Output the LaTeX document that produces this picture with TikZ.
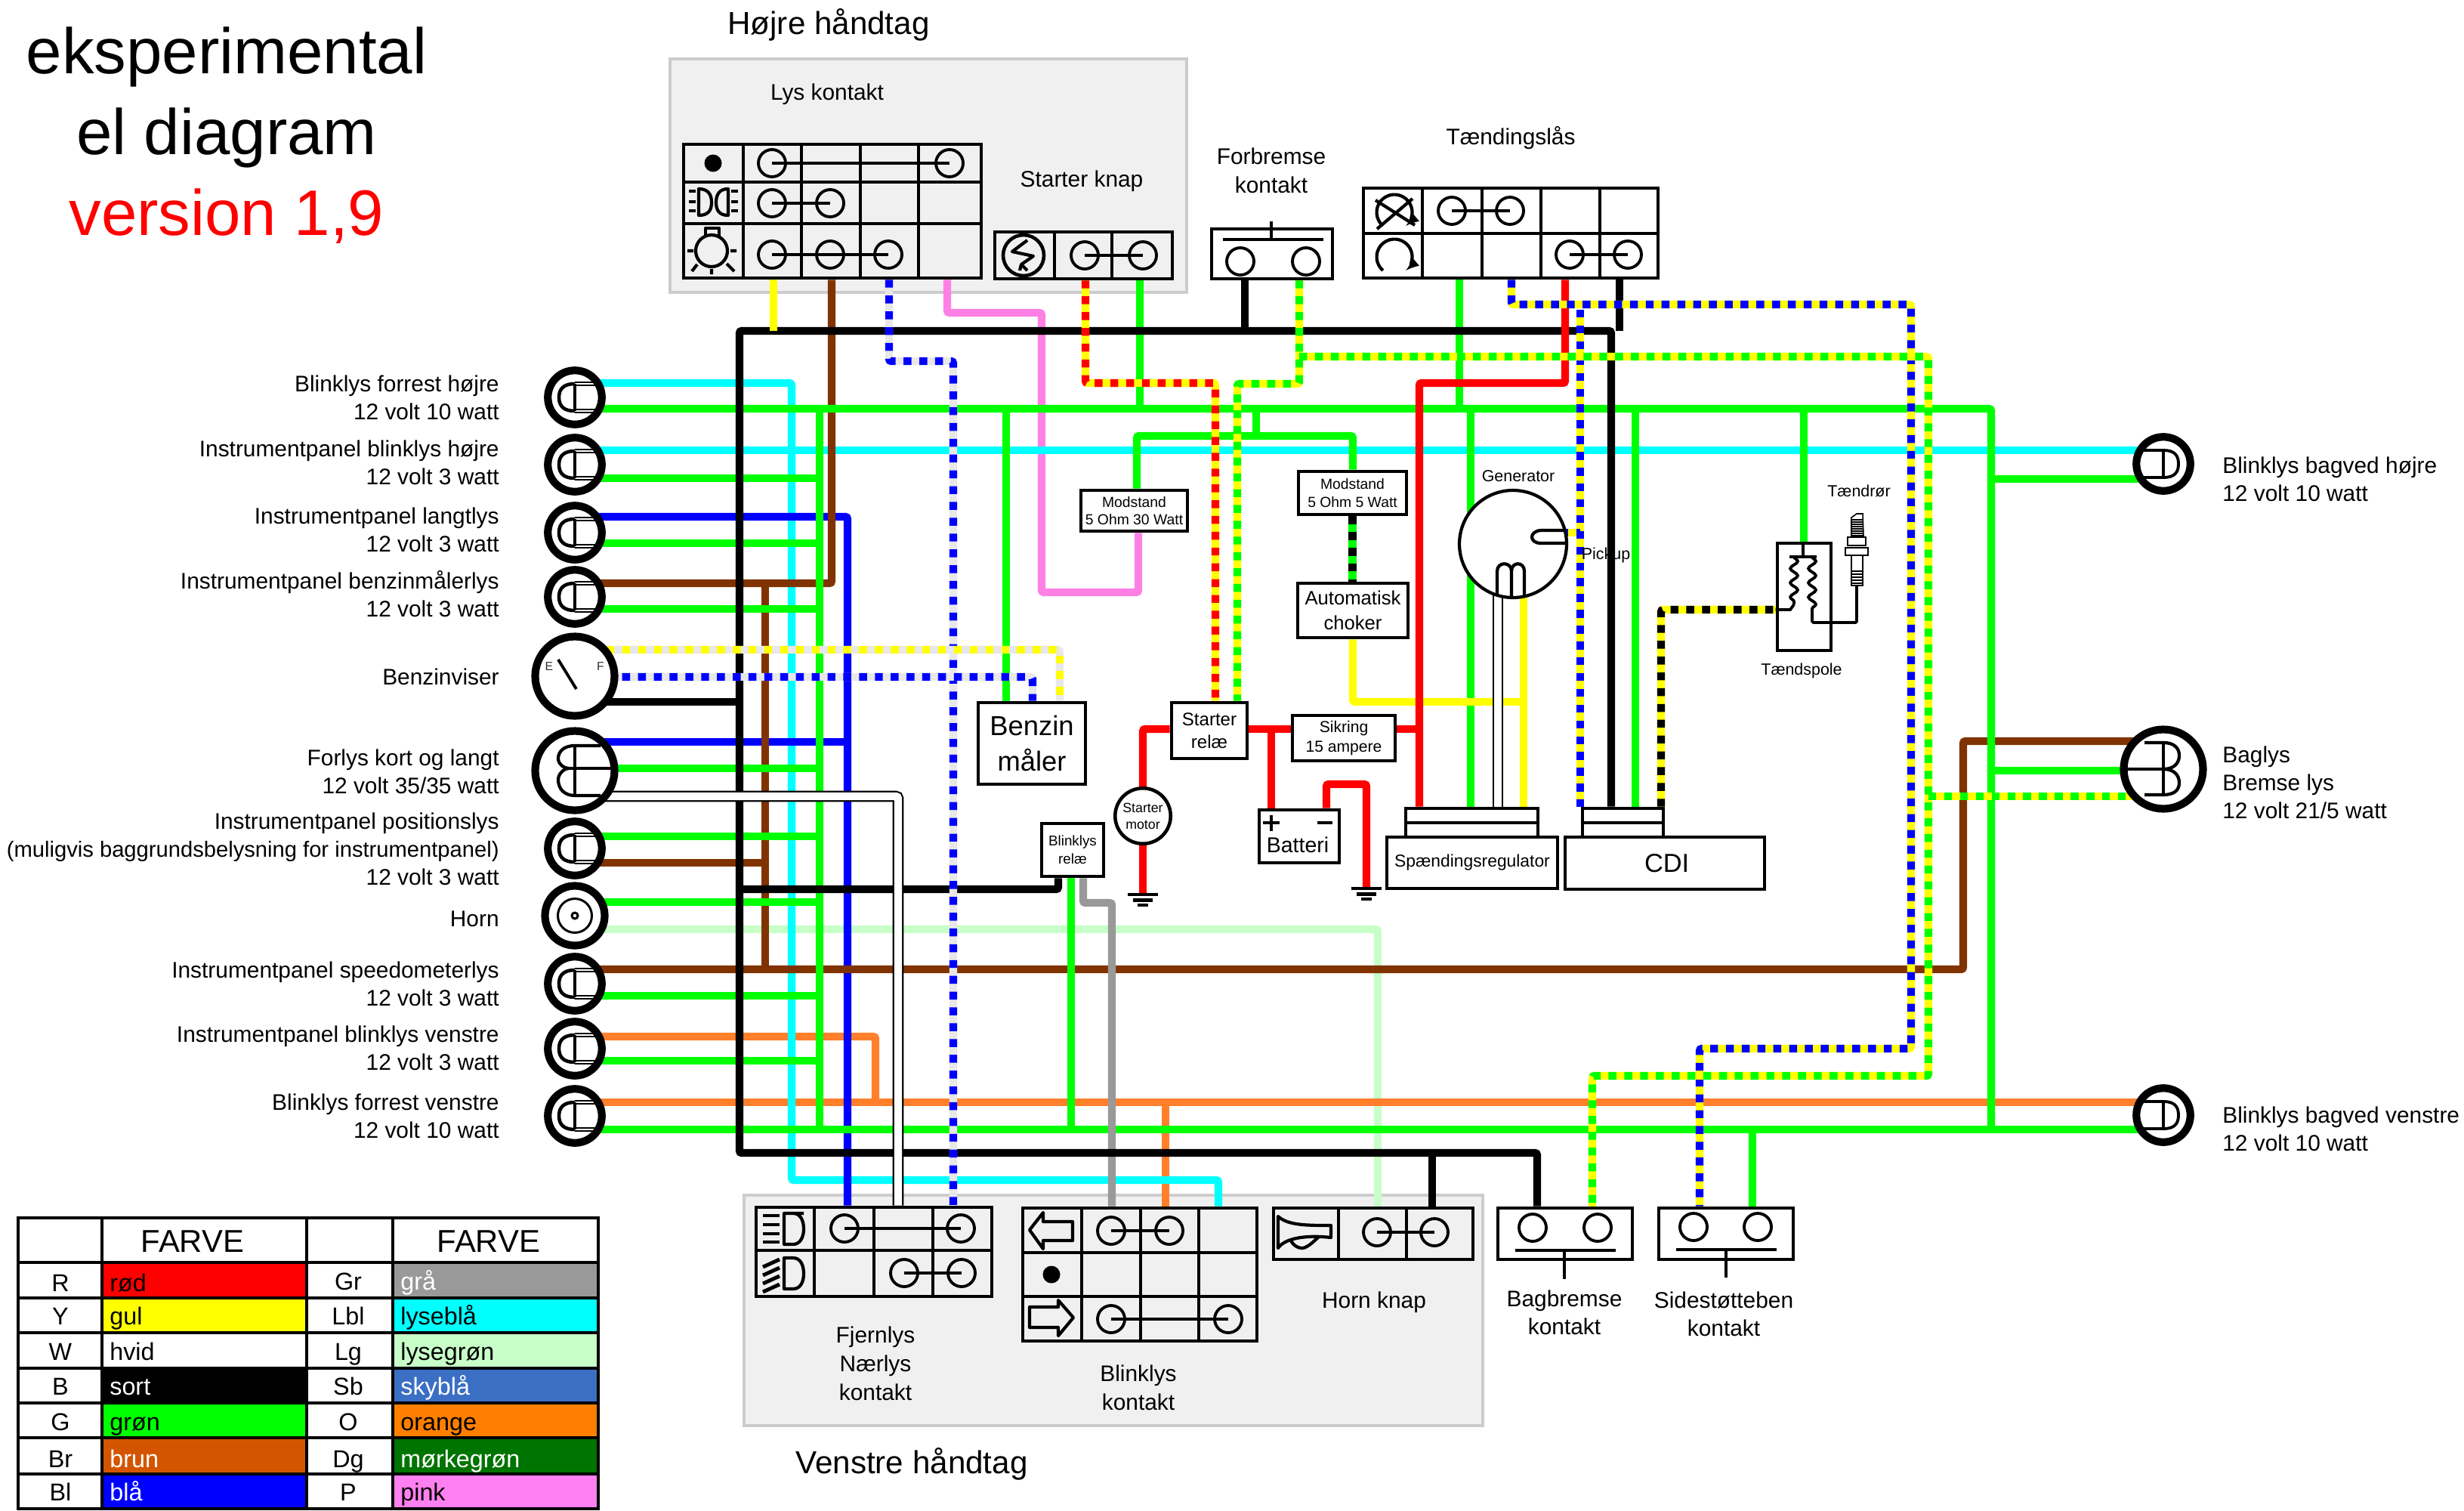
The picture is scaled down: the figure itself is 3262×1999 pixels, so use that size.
\documentclass[tikz,border=0pt]{standalone}
\usepackage{fontspec}
\setmainfont{Liberation Sans}
\usetikzlibrary{arrows,shapes,backgrounds,fit,decorations.pathmorphing,calc}

\definecolor{wgreen}{HTML}{00FF00}
\definecolor{wcyan}{HTML}{00FFFF}
\definecolor{wbrown}{HTML}{803300}
\definecolor{wblue}{HTML}{0000FF}
\definecolor{wyellow}{HTML}{FFFF00}
\definecolor{wred}{HTML}{FF0000}
\definecolor{wpink}{HTML}{FF80E5}
\definecolor{worange}{HTML}{FF7F2A}
\definecolor{wlight}{HTML}{C8FFC8}
\definecolor{wgrey}{HTML}{999999}
\definecolor{wwhite}{HTML}{E8E8E8}
\definecolor{lbrown}{HTML}{D45500}
\definecolor{lorange}{HTML}{FF7F00}
\definecolor{lsky}{HTML}{3A6FC4}
\definecolor{ldark}{HTML}{007400}
\definecolor{lpink}{HTML}{FF80F0}
\definecolor{panelgrey}{HTML}{F0F0F0}

\newcommand{\fs}[2]{\fontsize{#1}{#2}\selectfont}
\pgfdeclarelayer{panel}
\pgfdeclarelayer{wirelayer}
\pgfsetlayers{panel,wirelayer,main}

\tikzset{
  wire/.style={line width=5.9pt, rounded corners=1.7pt},
  bicolor/.style 2 args={wire, draw=#1, postaction={draw=#2, dash pattern=on 5.95pt off 5.95pt}},
  whitewire/.style={line width=1.2pt, double=white, double distance=5.9pt, rounded corners=1.7pt},
  lamp/.style={circle, draw=black, fill=white, line width=5.8pt, inner sep=0pt, minimum size=1.43cm},
  biglamp/.style={lamp, minimum size=2.1cm},
  panelbox/.style={draw=black!20, fill=panelgrey, line width=1.8pt, inner sep=0pt},
  grid/.style={draw=black, line width=2.6pt, inner sep=0pt},
  part/.style={grid, fill=white, align=center},
  boxsize/.style args={#1x#2}{minimum width=#1*.02cm, minimum height=#2*.02cm},
  gridline/.style={line width=2.5pt},
  terminal/.style={circle, draw=black, line width=2.2pt, inner sep=0pt, minimum size=.72cm},
  bridge/.style={line width=2.8pt},
  symline/.style={line width=2.4pt, line join=round},
  thinsym/.style={line width=1.6pt},
  gndbar/.style={line width=2.6pt},
  lbl/.style={font=\fs{17}{21}, inner sep=0pt, align=center},
  lblright/.style={lbl, align=right, anchor=east},
  lblleft/.style={lbl, align=left, anchor=west},
  tiny/.style={font=\fs{12.2}{14}, inner sep=0pt, align=center},
  cell/.style={font=\fs{18.4}{20}, inner sep=0pt, anchor=base},
  frontlamp/.pic={
    \draw[line width=2.6pt] (0,-18) .. controls (-14,-18) and (-21,-12) .. (-21,0) .. controls (-21,12) and (-14,18) .. (0,18);
    \draw[thinsym] (0,-20) -- (26,-20) (0,-16) -- (29,-16) (0,16) -- (29,16) (0,20) -- (26,20);
    \draw[line width=2.2pt] (0,-18) -- (0,18);
  },
  rearlamp/.pic={
    \draw[line width=2.2pt] (-26,-18) -- (0,-18) .. controls (14,-18) and (20,-12) .. (20,0) .. controls (20,12) and (14,18) .. (0,18) -- (-26,18);
    \draw[line width=2.2pt] (0,-18) -- (0,18);
  },
  twinfront/.pic={
    \draw[line width=2.4pt] (34,-33) -- (0,-33) .. controls (-16,-33) and (-22,-24) .. (-22,-16) .. controls (-22,-8) and (-14,-3) .. (-8,-3) .. controls (-14,-3) and (-22,4) .. (-22,12) .. controls (-22,24) and (-14,33) .. (0,33) -- (34,33);
    \draw[line width=2.4pt] (0,-33) -- (0,33) (-8,-3) -- (48,-3);
  },
  twinrear/.pic={
    \draw[line width=2.4pt] (-25,-35) -- (0,-35) .. controls (14,-35) and (21,-28) .. (21,-18) .. controls (21,-8) and (14,0) .. (0,0) .. controls (14,0) and (21,8) .. (21,18) .. controls (21,28) and (14,34) .. (0,34) -- (-25,34);
    \draw[line width=2.4pt] (0,-35) -- (0,34) (0,0) -- (-52,0);
  },
}

\begin{document}
\begin{tikzpicture}[x=.02cm, y=-.02cm]
  \useasboundingbox (0,0) rectangle (3262,1999);

  \begin{pgfonlayer}{panel}
    \node[panelbox, fit={(887,78) (1571,387)}] (hojrepanel) {};
    \node[panelbox, fit={(985,1582) (1963,1887)}] (venstrepanel) {};
  \end{pgfonlayer}

  % switches
  \node[grid, fit={(905,191) (1299,368)}] (lyskontakt) {};
  \node[grid, fit={(1317,307) (1552,369)}] (starterknap) {};
  \node[part, fit={(1604,303) (1764,369)}] (forbremse) {};
  \node[part, fit={(1805,249) (2195,368)}] (taending) {};
  \node[grid, fit={(1001,1598) (1313,1716)}] (fjernlys) {};
  \node[grid, fit={(1354,1599) (1664,1775)}] (blinkkontakt) {};
  \node[grid, fit={(1686,1599) (1950,1667)}] (hornknap) {};
  \node[part, fit={(1983,1599) (2161,1667)}] (bagkontakt) {};
  \node[part, fit={(2196,1599) (2374,1667)}] (sidekontakt) {};

  \foreach \xv in {984,1061,1139,1216} \draw[gridline] (\xv,0 |- lyskontakt.north) -- (\xv,0 |- lyskontakt.south);
  \foreach \yv in {241,296} \draw[gridline] (lyskontakt.west |- 0,\yv) -- (lyskontakt.east |- 0,\yv);
  \foreach \xv in {1396,1472} \draw[gridline] (\xv,0 |- starterknap.north) -- (\xv,0 |- starterknap.south);
  \foreach \xv in {1883,1962,2040,2118} \draw[gridline] (\xv,0 |- taending.north) -- (\xv,0 |- taending.south);
  \draw[gridline] (taending.west |- 0,309) -- (taending.east |- 0,309);
  \foreach \xv in {1078,1157,1235} \draw[gridline] (\xv,0 |- fjernlys.north) -- (\xv,0 |- fjernlys.south);
  \draw[gridline] (fjernlys.west |- 0,1655) -- (fjernlys.east |- 0,1655);
  \foreach \xv in {1432,1510,1587} \draw[gridline] (\xv,0 |- blinkkontakt.north) -- (\xv,0 |- blinkkontakt.south);
  \foreach \yv in {1658,1716} \draw[gridline] (blinkkontakt.west |- 0,\yv) -- (blinkkontakt.east |- 0,\yv);
  \foreach \xv in {1772,1862} \draw[gridline] (\xv,0 |- hornknap.north) -- (\xv,0 |- hornknap.south);

  \foreach \n/\cx/\cy in {lysa/1022/216, lysb/1257/216, lysc/1022/269, lysd/1099/269, lyse/1022/337, lysf/1099/337, lysg/1176/337,
      stara/1436/338, starb/1513/338, brema/1642/346, bremb/1729/346,
      taena/1922/279, taenb/1999/279, taenc/2078/337, taend/2155/337,
      fjera/1118/1626, fjerb/1272/1626, fjerc/1197/1685, fjerd/1273/1685,
      blina/1471/1629, blinb/1548/1629, blinc/1471/1746, blind/1626/1746,
      horna/1823/1631, hornb/1899/1631, baga/2029/1625, bagb/2115/1625, sidea/2242/1624, sideb/2327/1624}
    \node[terminal] (\n) at (\cx,\cy) {};
  \foreach \a/\b in {lysa/lysb, lysc/lysd, lyse/lysg, stara/starb, taena/taenb, taenc/taend, fjera/fjerb, fjerc/fjerd, blina/blinb, blinc/blind, horna/hornb}
    \draw[bridge] (\a.center) -- (\b.center);

  % bars on the push buttons
  \draw[bridge] (1619,317) -- (1752,317) (1683,293) -- (1683,317);
  \draw[bridge] (2006,1655) -- (2139,1655) (2071,1655) -- (2071,1693);
  \draw[bridge] (2219,1654) -- (2352,1654) (2285,1654) -- (2285,1691);

  % symbols in the switches
  \fill (944,216) circle[radius=.23cm];
  \fill (1392,1687) circle[radius=.23cm];
  \draw[symline] (925,250) .. controls (938,250) and (942,258) .. (942,268) .. controls (942,278) and (938,285) .. (925,285) -- cycle;
  \draw[symline] (964,250) .. controls (952,250) and (948,258) .. (948,268) .. controls (948,278) and (952,285) .. (964,285) -- cycle;
  \foreach \yv in {253,267,279} \draw[symline] (912,\yv) -- (921,\yv) (968,\yv) -- (977,\yv);
  \node[circle, draw=black, line width=2.4pt, inner sep=0pt, minimum size=.84cm] (bulb) at (942,332) {};
  \draw[symline] (934,313) -- (934,302) -- (952,302) -- (952,313);
  \draw[symline] (910,332) -- (918,332) (967,332) -- (975,332) (942,356) -- (942,363) (923,350) -- (916,359) (962,349) -- (972,359);
  \node[circle, draw=black, line width=2.6pt, inner sep=0pt, minimum size=1.08cm] (starterring) at (1355,338) {};
  \draw[symline] (1360,318) -- (1340,333) -- (1368,339) -- (1352,350) -- (1360,358) (1352,350) -- (1350,358);
  \draw[symline, -latex] (1846,281) ++(-130:.47cm) arc[start angle=-130, end angle=-410, radius=.47cm];
  \draw[symline] (1821,265) -- (1873,298) (1870,263) -- (1823,303);
  \draw[symline, -latex] (1846,340) ++(-130:.47cm) arc[start angle=-130, end angle=-410, radius=.47cm];
  \draw[symline] (1064,1606) -- (1038,1606) -- (1038,1647) -- (1050,1647) .. controls (1060,1647) and (1064,1636) .. (1064,1627) .. controls (1064,1616) and (1060,1606) .. (1050,1606);
  \foreach \yv in {1609,1621,1633,1644} \draw[line width=2.8pt] (1010,\yv) -- (1032,\yv);
  \draw[symline] (1050,1665) -- (1038,1665) -- (1038,1706) -- (1050,1706) .. controls (1060,1706) and (1064,1696) .. (1064,1686) .. controls (1064,1675) and (1060,1665) .. (1050,1665);
  \foreach \yv in {1677,1688,1699,1710} \draw[line width=2.8pt] (1010,\yv) -- (1032,\yv-10);
  \draw[symline] (1363,1628) -- (1381,1605) -- (1381,1617) -- (1420,1617) -- (1420,1642) -- (1381,1642) -- (1381,1653) -- cycle;
  \draw[symline] (1421,1744) -- (1401,1721) -- (1401,1730) -- (1363,1730) -- (1363,1757) -- (1401,1757) -- (1401,1768) -- cycle;
  \draw[symline] (1692,1610) .. controls (1705,1622) and (1730,1622) .. (1762,1622) -- (1762,1638) .. controls (1725,1634) and (1700,1640) .. (1692,1652) -- cycle;
  \draw[symline] (1708,1640) .. controls (1712,1650) and (1722,1654) .. (1728,1651) .. controls (1735,1648) and (1740,1642) .. (1745,1638);

  % lamps
  \node[lamp] (blinkfh) at (761,526) {};
  \node[lamp] (instblinkh) at (761,615) {};
  \node[lamp] (langtlys) at (761,705) {};
  \node[lamp] (benzinlys) at (761,790) {};
  \node[biglamp] (benzinviser) at (761,895) {};
  \node[biglamp] (forlys) at (761,1020) {};
  \node[lamp] (poslys) at (761,1123) {};
  \node[lamp, minimum size=1.58cm] (horn) at (761,1212) {};
  \node[lamp] (speedo) at (761,1302) {};
  \node[lamp] (instblinkv) at (761,1388) {};
  \node[lamp] (blinkfv) at (761,1477) {};
  \node[lamp] (blinkbh) at (2864,614) {};
  \node[biglamp] (baglys) at (2864,1018) {};
  \node[lamp] (blinkbv) at (2864,1476) {};

  \foreach \l in {blinkfh,instblinkh,langtlys,benzinlys,poslys,speedo,instblinkv,blinkfv} \pic at (\l) {frontlamp};
  \foreach \l in {blinkbh,blinkbv} \pic at (\l) {rearlamp};
  \pic at (forlys) {twinfront};
  \pic at (baglys) {twinrear};
  \node[circle, draw=black, line width=1.7pt, inner sep=0pt, minimum size=.9cm] (horninner) at (761,1212) {};
  \node[circle, draw=black, line width=1.7pt, inner sep=0pt, minimum size=.16cm] (horndot) at (761,1212) {};
  \node[inner sep=0pt, font=\fs{9}{10}, text=black!80] (gaugee) at (727,882) {E};
  \node[inner sep=0pt, font=\fs{9}{10}, text=black!80] (gaugef) at (795,882) {F};
  \draw[line width=2.2pt] (739,873) -- (763,912);

  % parts in the middle
  \node[part, font=\fs{11}{13.5}, boxsize=141x54] (modstanda) at (1501.5,676) {Modstand\\5 Ohm 30 Watt};
  \node[part, font=\fs{11}{13.5}, boxsize=143x57] (modstandb) at (1790.5,652.5) {Modstand\\5 Ohm 5 Watt};
  \node[part, font=\fs{14.6}{19}, boxsize=146x72] (automatisk) at (1791,808) {Automatisk\\choker};
  \node[part, font=\fs{20.7}{27}, boxsize=142x108] (benzinmaaler) at (1366,984) {Benzin\\måler};
  \node[part, font=\fs{13.7}{17}, boxsize=100x74] (starterrelae) at (1601,967) {Starter\\relæ};
  \node[part, font=\fs{12}{15}, boxsize=136x60] (sikring) at (1779,977) {Sikring\\15 ampere};
  \node[part, font=\fs{10.7}{13.5}, boxsize=82x70] (blinkrelae) at (1420,1125) {Blinklys\\relæ};
  \node[circle, draw=black, fill=white, line width=2.6pt, inner sep=0pt, minimum size=1.47cm, align=center, font=\fs{10.1}{12.5}] (startermotor) at (1513,1080) {Starter\\motor};
  \node[part, fit={(1667,1072) (1773,1142)}] (batteri) {};
  \node[inner sep=0pt, font=\fs{16.2}{18}] (batteritext) at (1718,1118) {Batteri};
  \draw[line width=2.6pt] (1672,1089) -- (1694,1089) (1683,1079) -- (1683,1100) (1744,1089) -- (1764,1089);
  \node[part, fit={(1861,1070) (2036,1108)}] (regstack) {};
  \draw[gridline] (regstack.west |- 0,1089) -- (regstack.east |- 0,1089);
  \node[part, font=\fs{13}{15}, boxsize=226x68] (regulator) at (1949,1142) {Spændingsregulator};
  \node[part, fit={(2095,1070) (2202,1108)}] (cdistack) {};
  \draw[gridline] (cdistack.west |- 0,1089) -- (cdistack.east |- 0,1089);
  \node[part, font=\fs{19.6}{22}, boxsize=264x69] (cdi) at (2204,1142.5) {\hspace{3pt}CDI};

  \node[circle, draw=black, fill=white, line width=2.4pt, inner sep=0pt, minimum size=2.84cm] (generator) at (2003,720) {};
  \draw[line width=2.4pt] (2073,702) -- (2040,702) .. controls (2024,703) and (2024,719) .. (2040,719) -- (2073,719);
  \draw[line width=2.4pt] (1982,788) -- (1982,756) .. controls (1982,743) and (2001,743) .. (2001,756) -- (2001,790) (2001,756) .. controls (2001,743) and (2018,743) .. (2018,756) -- (2018,788);

  \node[grid, fit={(2353,719) (2424,861)}] (taendspole) {};
  \draw[line width=2.2pt] (2387,719) -- (2387,737) (2369,737) -- (2405,737);
  \draw[line width=2.2pt, decorate, decoration={snake, segment length=10.8pt, amplitude=2.8pt}] (2375,737) -- (2375,800);
  \draw[line width=2.2pt] (2375,800) -- (2370,807) -- (taendspole.west |- 0,807);
  \draw[line width=2.2pt, decorate, decoration={snake, segment length=10.8pt, amplitude=2.8pt}] (2399,737) -- (2399,815);
  \draw[line width=2.2pt, rounded corners=1pt] (2399,815) -- (2399,824) -- (2458,824) -- (2458,785);

  % spark plug
  \draw[line width=.9pt, fill=white] (2451,710) -- (2451,685) -- (2458,680) -- (2466,680) -- (2467,710) -- cycle;
  \foreach \yv in {688,691,...,709} \draw[line width=.7pt] (2451,\yv) -- (2467,\yv);
  \draw[line width=1.1pt] (2446,711) rectangle (2470,722) (2443,725) rectangle (2473,735) (2451,735) -- (2451,775) -- (2466,775) -- (2466,735);
  \foreach \yv in {756,760,...,772} \draw[line width=.9pt] (2452,\yv) -- (2465,\yv);
  \fill (2456,775) rectangle (2460,787);

  % wires
  \begin{pgfonlayer}{wirelayer}
    \draw[wire, wlight] (horn.center |- 0,1230) -| (1824,0 |- hornknap.north);
    \draw[wire, wpink] (1254,0 |- lyskontakt.south) |- (1379,414) |- (1507,784) -- (1507,0 |- modstanda.south);
    \draw[wire, worange] (instblinkv.center |- 0,1372) -| (1159,1459);
    \draw[wire, worange] (blinkfv.center |- 0,1459) -- (blinkbv.center |- 0,1459);
    \draw[wire, worange] (1543,1459) -- (1543,0 |- blinkkontakt.north);
    \draw[wire, wcyan] (blinkfh.center |- 0,507) -| (1048,1562) -| (1613,0 |- blinkkontakt.north);
    \draw[wire, wcyan] (instblinkh.center |- 0,596) -- (blinkbh.center |- 0,596);
    \draw[wire, wblue] (langtlys.center |- 0,684) -| (1122,0 |- fjernlys.north);
    \draw[wire, wblue] (forlys.center |- 0,982) -- (1122,982);
    \draw[wire, wbrown] (1101,0 |- lyskontakt.south) |- (benzinlys.center |- 0,772);
    \draw[wire, wbrown] (1013,772) -- (1013,1283);
    \draw[wire, wbrown] (poslys.center |- 0,1142) -- (1013,1142);
    \draw[wire, wbrown] (speedo.center |- 0,1283) -| (2599,981) -- (baglys.center |- 0,981);

    \draw[wire, wgreen] (blinkfh.center |- 0,541) -| (2636,1495);
    \draw[wire, wgreen] (blinkfv.center |- 0,1495) -- (blinkbv.center |- 0,1495);
    \draw[wire, wgreen] (1085,541) -- (1085,1495);
    \foreach \l/\yv in {instblinkh/633, langtlys/719, benzinlys/806, forlys/1017, poslys/1107, horn/1194, speedo/1318, instblinkv/1404}
      \draw[wire, wgreen] (\l.center |- 0,\yv) -- (1085,\yv);
    \draw[wire, wgreen] (2636,634) -- (blinkbh.center |- 0,634);
    \draw[wire, wgreen] (2636,1020) -- (baglys.center |- 0,1020);
    \draw[wire, wgreen] (1332,541) -- (1332,0 |- benzinmaaler.north);
    \draw[wire, wgreen] (1509,0 |- starterknap.south) -- (1509,541);
    \draw[wire, wgreen] (1932,0 |- taending.south) -- (1932,541);
    \draw[wire, wgreen] (1947,541) -- (1947,0 |- regstack.north);
    \draw[wire, wgreen] (2165,541) -- (2165,0 |- cdistack.north);
    \draw[wire, wgreen] (2388,541) -- (2388,0 |- taendspole.north);
    \draw[wire, wgreen] (1418,0 |- blinkrelae.south) -- (1418,1495);
    \draw[wire, wgreen] (2320,1495) -- (2320,0 |- sidekontakt.north);
    \draw[wire, wgreen] (1663,541) -- (1663,577);
    \draw[wire, wgreen] (1505,0 |- modstanda.north) |- (1791,577) -- (1791,0 |- modstandb.north);

    \draw[wire, wgrey] (1434,0 |- blinkrelae.south) |- (1472,1195) -- (1472,0 |- blinkkontakt.north);

    \draw[wire, black] (2133,0 |- cdistack.north) |- (979,438) -- (979,1526) -| (2035,0 |- bagkontakt.north);
    \draw[wire, black] (1648,0 |- forbremse.south) -- (1648,438);
    \draw[wire, black] (2144,0 |- taending.south) -- (2144,438);
    \draw[wire, black] (979,1177) -| (1401,0 |- blinkrelae.south);
    \draw[wire, black] (benzinviser.center |- 0,929) -- (979,929);
    \draw[wire, black] (1896,1526) -- (1896,0 |- hornknap.north);

    \draw[wire, wyellow] (1024,0 |- lyskontakt.south) -- (1024,438);
    \draw[wire, wyellow] (1791,0 |- automatisk.south) |- (2017,929);
    \draw[wire, wyellow] (2017,0 |- generator.center) -- (2017,0 |- regstack.north);

    \coordinate (gnda) at (1513,1184);
    \coordinate (gndb) at (1809,1176);
    \draw[wire, wred] (2072,0 |- taending.south) |- (1879,507) -- (1879,0 |- regstack.north);
    \draw[wire, wred] (starterrelae.west |- 0,965) -| (startermotor.north);
    \draw[wire, wred] (startermotor.south) -- (gnda);
    \draw[wire, wred] (starterrelae.east |- 0,965) -- (sikring.west |- 0,965);
    \draw[wire, wred] (1683,965) -- (1683,0 |- batteri.north);
    \draw[wire, wred] (sikring.east |- 0,965) -- (1879,965);
    \draw[wire, wred] (1756,0 |- batteri.north) |- (1809,1038) -- (gndb);

    \draw[bicolor={wwhite}{wblue}] (1177,0 |- lyskontakt.south) |- (1262,478) -- (1262,0 |- fjernlys.north);
    \draw[bicolor={wwhite}{wyellow}] (benzinviser.center |- 0,860) -| (1403,0 |- benzinmaaler.north);
    \draw[bicolor={wwhite}{wblue}] (benzinviser.center |- 0,896) -| (1367,0 |- benzinmaaler.north);
    \draw[bicolor={wyellow}{wred}] (1437,0 |- starterknap.south) |- (1609,507) -- (1609,0 |- starterrelae.north);
    \draw[bicolor={wyellow}{wgreen}] (1720,0 |- forbremse.south) |- (1638,508) -- (1638,0 |- starterrelae.north);
    \draw[bicolor={wyellow}{wblue}] (2092,410) -- (2092,0 |- cdistack.north);
    \draw[bicolor={wyellow}{wblue}] (generator.center |- 0,705) -- (2092,705);
    \draw[bicolor={wyellow}{wblue}] (2001,0 |- taending.south) |- (2530,403) -- (2530,1388) -| (2250,0 |- sidekontakt.north);
    \draw[bicolor={wyellow}{wgreen}] (1720,472) -| (2553,1424) -| (2108,0 |- bagkontakt.north);
    \draw[bicolor={wyellow}{wgreen}] (2553,1054) -- (baglys.center |- 0,1054);
    \draw[bicolor={wyellow}{black}] (2199,0 |- cdistack.north) |- (taendspole.west |- 0,807);
    \draw[bicolor={wgreen}{black}] (modstandb.south) -- (modstandb.south |- automatisk.north);

    \draw[whitewire] (forlys.center |- 0,1054) -| (1189,0 |- fjernlys.north);
    \draw[whitewire] (1983,0 |- generator.center) -- (1983,0 |- regstack.north);
  \end{pgfonlayer}

  \foreach \g in {gnda,gndb} {
    \draw[gndbar] ([xshift=-11.6pt]\g) -- ([xshift=11.6pt]\g);
    \draw[gndbar] ([xshift=-7.6pt,yshift=-4.4pt]\g) -- ([xshift=7.6pt,yshift=-4.4pt]\g);
    \draw[gndbar] ([xshift=-4pt,yshift=-8pt]\g) -- ([xshift=4pt,yshift=-8pt]\g);
  }

  % texts
  \node[inner sep=0pt, font=\fs{48.5}{60.7}, align=center] (titel) at (300,179) {eksperimental\\el diagram\\\textcolor{red}{version 1,9}};
  \node[lbl, font=\fs{24}{28}] (hojretekst) at (1097,33) {Højre håndtag};
  \node[lbl, font=\fs{24}{28}] (venstretekst) at (1207,1938) {Venstre håndtag};
  \node[lbl] (lystekst) at (1095,125) {Lys kontakt};
  \node[lbl] (startertekst) at (1432,240) {Starter knap};
  \node[lbl, font=\fs{17}{21.5}] (bremsetekst) at (1683,226) {Forbremse\\kontakt};
  \node[lbl] (taendtekst) at (2000,183) {Tændingslås};
  \node[lbl, font=\fs{17}{21.5}] (fjerntekst) at (1159,1805) {Fjernlys\\Nærlys\\kontakt};
  \node[lbl, font=\fs{17}{21.5}] (blinktekst) at (1507,1837) {Blinklys\\kontakt};
  \node[lbl] (horntekst) at (1819,1724) {Horn knap};
  \node[lbl] (bagtekst) at (2071,1737) {Bagbremse\\kontakt};
  \node[lbl] (sidetekst) at (2282,1739) {Sidestøtteben\\kontakt};
  \node[tiny] (gentekst) at (2010,630) {Generator};
  \node[tiny] (picktekst) at (2126,735) {Pickup};
  \node[tiny] (spoletekst) at (2385,888) {Tændspole};
  \node[tiny] (rortekst) at (2461,650) {Tændrør};

  \node[lblright] (t1) at (661,526) {Blinklys forrest højre\\12 volt 10 watt};
  \node[lblright] (t2) at (661,612) {Instrumentpanel blinklys højre\\12 volt 3 watt};
  \node[lblright] (t3) at (661,701) {Instrumentpanel langtlys\\12 volt 3 watt};
  \node[lblright] (t4) at (661,786) {Instrumentpanel benzinmålerlys\\12 volt 3 watt};
  \node[lblright] (t5) at (661,896) {Benzinviser};
  \node[lblright] (t6) at (661,1021) {Forlys kort og langt\\12 volt 35/35 watt};
  \node[lblright] (t7) at (661,1124) {Instrumentpanel positionslys\\{\fs{16.6}{21}(muligvis baggrundsbelysning for instrumentpanel)}\\12 volt 3 watt};
  \node[lblright] (t8) at (661,1216) {Horn};
  \node[lblright] (t9) at (661,1302) {Instrumentpanel speedometerlys\\12 volt 3 watt};
  \node[lblright] (t10) at (661,1387) {Instrumentpanel blinklys venstre\\12 volt 3 watt};
  \node[lblright] (t11) at (661,1477) {Blinklys forrest venstre\\12 volt 10 watt};
  \node[lblleft] (t12) at (2942,634) {Blinklys bagved højre\\12 volt 10 watt};
  \node[lblleft] (t13) at (2942,1036) {Baglys\\Bremse lys\\12 volt 21/5 watt};
  \node[lblleft] (t14) at (2942,1494) {Blinklys bagved venstre\\12 volt 10 watt};

  % colour table
  \foreach \ya/\yb/\colb/\colc in {1671/1718/wred/wgrey, 1718/1764/wyellow/wcyan, 1764/1811/white/wlight, 1811/1857/black/lsky, 1857/1903/wgreen/lorange, 1903/1951/lbrown/ldark, 1951/1997/wblue/lpink} {
    \fill[\colb] (135,\ya) rectangle (406,\yb);
    \fill[\colc] (520,\ya) rectangle (792,\yb);
  }
  \draw[line width=2.7pt] (24,1612) rectangle (792,1997);
  \foreach \yv in {1671,1718,1764,1811,1857,1903,1951} \draw[line width=2.7pt] (24,\yv) -- (792,\yv);
  \foreach \xv in {135,406,520} \draw[line width=2.2pt] (\xv,1612) -- (\xv,1997);
  \node[cell, font=\fs{23.8}{25}] (farvea) at (255,1657) {FARVE};
  \node[cell, font=\fs{23.8}{25}] (farveb) at (647,1657) {FARVE};
  \foreach \codea/\namea/\tca/\ba/\codeb/\nameb/\tcb/\bb in {R/rød/black/1709/Gr/grå/white/1707, Y/gul/black/1753/Lbl/lyseblå/black/1753, W/hvid/black/1800/Lg/lysegrøn/black/1800, B/sort/white/1846/Sb/skyblå/white/1846, G/grøn/black/1893/O/orange/black/1893, Br/brun/white/1942/Dg/mørkegrøn/white/1942, Bl/blå/white/1986/P/pink/black/1986} {
    \node[cell] (code\codea) at (80,\ba) {\codea};
    \node[cell, anchor=base west, text=\tca] (name\codea) at (145,\ba) {\namea};
    \node[cell] (code\codeb) at (461,\bb) {\codeb};
    \node[cell, anchor=base west, text=\tcb] (name\codeb) at (530,\bb) {\nameb};
  }
\end{tikzpicture}
\end{document}
